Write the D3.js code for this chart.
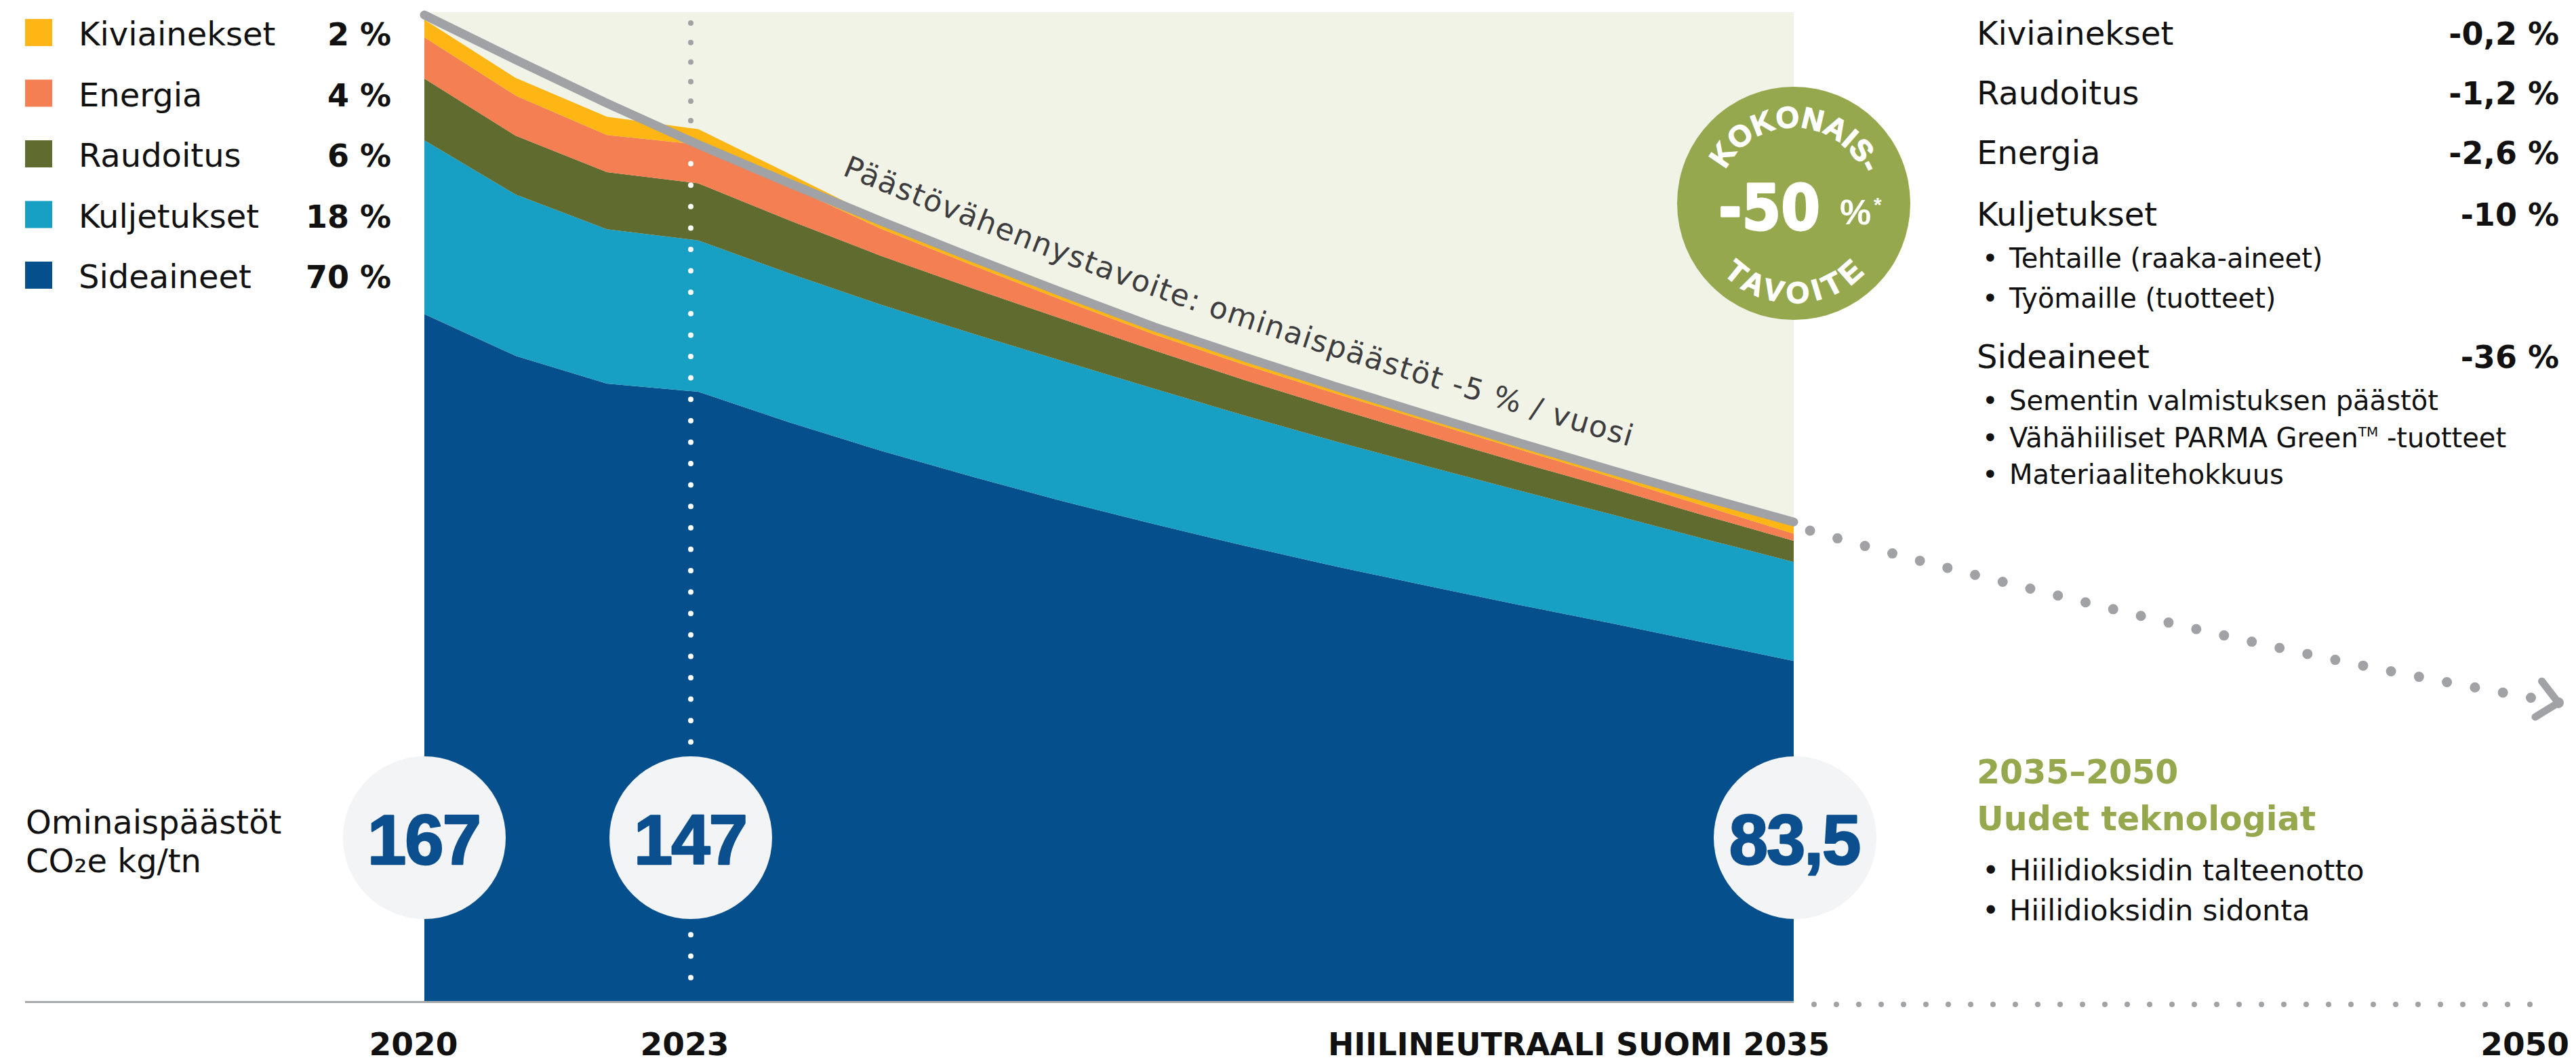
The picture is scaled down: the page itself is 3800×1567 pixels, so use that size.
<!DOCTYPE html>
<html>
<head>
<meta charset="utf-8">
<script src="https://cdn.jsdelivr.net/npm/d3@7"></script>
<style>
html,body{margin:0;padding:0;background:#ffffff;}
svg{display:block;}
text{font-family:"DejaVu Sans",sans-serif;}
</style>
</head>
<body>
<svg id="chart" width="3800" height="1567"></svg>
<script>
// ---------------- DATA ----------------
const years        = [2020, 2021, 2022, 2023, 2024, 2025, 2026, 2027, 2028, 2029, 2030, 2031, 2032, 2033, 2034, 2035];
const sideaineet   = [117.0, 109.9, 105.2, 103.8, 98.6, 93.8, 89.4, 85.2, 81.3, 77.6, 74.1, 70.8, 67.6, 64.5, 61.3, 58.1];
const kuljetukset  = [29.5, 27.4, 26.2, 25.7, 25.3, 24.8, 24.3, 23.8, 23.0, 22.1, 21.2, 20.3, 19.4, 18.5, 17.6, 16.8];
const raudoitus    = [10.5, 10.0, 9.7, 9.7, 9.0, 8.3, 7.7, 7.1, 6.5, 6.0, 5.6, 5.2, 4.8, 4.4, 4.0, 3.6];
const energia      = [7.0, 6.8, 6.3, 6.6, 5.8, 4.6, 3.9, 3.2, 2.7, 2.6, 2.5, 2.4, 2.2, 1.9, 1.6, 1.2];
const kiviainekset = [3.0, 3.0, 3.1, 2.6, 2.1, 1.6, 1.5, 1.4, 1.4, 1.5, 1.5, 1.5, 1.5, 1.5, 1.5, 1.5];
// target line "-5 % / vuosi"
const targetValues = [167.8, 160.2, 152.8, 145.8, 139.2, 132.8, 126.6, 120.6, 114.8, 109.6, 104.6, 99.8, 95.1, 90.5, 86.0, 81.7];
// dotted continuation 2035-2050
const extYears  = [2035, 2037, 2040, 2043, 2046, 2050];
const extValues = [81.0, 76.2, 69.6, 63.3, 57.6, 51.0];

const seriesKeys   = ["sideaineet", "kuljetukset", "raudoitus", "energia", "kiviainekset"];
const legendLabels = ["Kiviainekset", "Energia", "Raudoitus", "Kuljetukset", "Sideaineet"];
const legendKeys   = ["kiviainekset", "energia", "raudoitus", "kuljetukset", "sideaineet"];
const legendShares = ["2 %", "4 %", "6 %", "18 %", "70 %"];

const reductionLabels = ["Kiviainekset", "Raudoitus", "Energia", "Kuljetukset", "Sideaineet"];
const reductionValues = ["-0,2 %", "-1,2 %", "-2,6 %", "-10 %", "-36 %"];
const kuljetusBullets = ["Tehtaille (raaka-aineet)", "Työmaille (tuotteet)"];
const sideaineBullets = ["Sementin valmistuksen päästöt", "Vähähiiliset PARMA Green|TM| -tuotteet", "Materiaalitehokkuus"];
const techTitle   = ["2035–2050", "Uudet teknologiat"];
const techBullets = ["Hiilidioksidin talteenotto", "Hiilidioksidin sidonta"];

const milestoneYears  = [2020, 2023, 2035];
const milestoneLabels = ["167", "147", "83,5"];
const axisLabels = [
  {year: 2020, text: "2020"},
  {year: 2023, text: "2023"},
  {year: 2035, text: "HIILINEUTRAALI SUOMI 2035"},
  {year: 2050, text: "2050"}
];
const targetText = "Päästövähennystavoite: ominaispäästöt -5 % / vuosi";
const badgeTop = "KOKONAIS-", badgeMain = "-50", badgeBottom = "TAVOITE";
const unitLines = ["Ominaispäästöt", "CO₂e kg/tn"];

// ---------------- STYLE ----------------
const colors = {
  sideaineet: "#054f8c", kuljetukset: "#189fc4", raudoitus: "#5f6b2f",
  energia: "#f37f53", kiviainekset: "#fdb614"
};
const bgColor = "#f1f3e7", greyLine = "#a0a2a5", green = "#96a84e", numBlue = "#0b4f8e";
const LIB = "'Liberation Sans', Arial, sans-serif";

// ---------------- SCALES ----------------
const svg = d3.select("#chart");
const x = d3.scaleLinear().domain([2020, 2035, 2050]).range([626, 2646, 3774]);
const y = d3.scaleLinear().domain([0, 167]).range([1480, 29]);

const rows = years.map((yr, i) => ({
  year: yr, sideaineet: sideaineet[i], kuljetukset: kuljetukset[i],
  raudoitus: raudoitus[i], energia: energia[i], kiviainekset: kiviainekset[i]
}));
const stacked = d3.stack().keys(seriesKeys)(rows);
const totals = rows.map(r => seriesKeys.reduce((s, k) => s + r[k], 0));

const x0 = x(2020), x1 = x(2035), yBase = y(0);
const bgTop = 18;
const markNudge = -11;           // 2023 marker sits a little left of the data kink
const markX = x(2023) + markNudge;

// background panel
svg.append("rect").attr("x", x0).attr("y", bgTop)
  .attr("width", x1 - x0).attr("height", yBase - bgTop).attr("fill", bgColor);

// grey dots of 2023 marker above the stack
const total2023 = totals[years.indexOf(2023)];
svg.append("line").attr("x1", markX).attr("x2", markX)
  .attr("y1", bgTop + 16).attr("y2", y(total2023) - 12)
  .attr("stroke", greyLine).attr("stroke-width", 8).attr("stroke-linecap", "round")
  .attr("stroke-dasharray", "0 28.8");

// stacked areas
const area = d3.area().x(d => x(d.data.year)).y0(d => y(d[0])).y1(d => y(d[1])).curve(d3.curveLinear);
svg.append("g").selectAll("path").data(stacked).join("path")
  .attr("d", area).attr("fill", d => colors[d.key]);

// white dots of 2023 marker inside the stack
svg.append("line").attr("x1", markX).attr("x2", markX)
  .attr("y1", y(total2023) + 51).attr("y2", yBase - 37)
  .attr("stroke", "#ffffff").attr("stroke-width", 8).attr("stroke-linecap", "round")
  .attr("stroke-dasharray", "0 31.6");

// axis line
svg.append("line").attr("x1", 37).attr("x2", x1).attr("y1", yBase - 1.5).attr("y2", yBase - 1.5)
  .attr("stroke", "#a7a9ac").attr("stroke-width", 3);
// dotted axis continuation
svg.append("line").attr("x1", x1 + 30).attr("x2", x(2050) - 19).attr("y1", yBase + 2).attr("y2", yBase + 2)
  .attr("stroke", greyLine).attr("stroke-width", 8).attr("stroke-linecap", "round")
  .attr("stroke-dasharray", "0 33");

// target line
const tgtPts = years.map((yr, i) => [x(yr), y(targetValues[i])]);
svg.append("path").attr("id", "targetLine")
  .attr("d", d3.line().curve(d3.curveLinear)(tgtPts))
  .attr("fill", "none").attr("stroke", greyLine).attr("stroke-width", 13)
  .attr("stroke-linecap", "round").attr("stroke-linejoin", "round");

// dotted extension 2035-2050
const extPts = extYears.map((yr, i) => [x(yr), y(extValues[i])]);
const extPath = svg.append("path")
  .attr("d", d3.line().curve(d3.curveMonotoneX)(extPts))
  .attr("fill", "none").attr("stroke", greyLine).attr("stroke-width", 15)
  .attr("stroke-linecap", "round").attr("stroke-dasharray", "0 42").attr("stroke-dashoffset", 17);
{
  const node = extPath.node();
  const L = node.getTotalLength();
  const pEnd = node.getPointAtLength(L), pPrev = node.getPointAtLength(L - 8);
  const ang = Math.atan2(pEnd.y - pPrev.y, pEnd.x - pPrev.x) + Math.PI;
  const arm = 40, spread = 42 * Math.PI / 180;
  const a1 = [pEnd.x + arm * Math.cos(ang + spread), pEnd.y + arm * Math.sin(ang + spread)];
  const a2 = [pEnd.x + arm * Math.cos(ang - spread), pEnd.y + arm * Math.sin(ang - spread)];
  svg.append("path").attr("d", `M${a1[0]},${a1[1]}L${pEnd.x},${pEnd.y}L${a2[0]},${a2[1]}`)
    .attr("fill", "none").attr("stroke", greyLine).attr("stroke-width", 11)
    .attr("stroke-linecap", "round").attr("stroke-linejoin", "round");
  svg.append("circle").attr("cx", pEnd.x).attr("cy", pEnd.y).attr("r", 8).attr("fill", greyLine);
}

// text along target line (offset path)
{
  const idx = years.map((yr, i) => i).filter(i => years[i] >= 2023);
  const off = 41;
  const pts = idx.map(i => {
    const a = tgtPts[Math.max(idx[0], i - 1)], b = tgtPts[Math.min(years.length - 1, i + 1)];
    const tx = b[0] - a[0], ty = b[1] - a[1], n = Math.hypot(tx, ty);
    return [tgtPts[i][0] + off * ty / n, tgtPts[i][1] - off * tx / n];
  });
  const guide = svg.append("path").attr("id", "textGuide")
    .attr("d", d3.line().curve(d3.curveBasis)(pts)).attr("fill", "none").attr("stroke", "none");
  const gn = guide.node();
  let s = 0; const Lg = gn.getTotalLength();
  while (s < Lg && gn.getPointAtLength(s).x < 1241) s += 1;
  svg.append("text").attr("font-size", 44).attr("fill", "#3d3d3f").attr("letter-spacing", 1.6)
    .append("textPath").attr("href", "#textGuide").attr("startOffset", s)
    .text(targetText);
}

// milestone circles
milestoneYears.forEach((yr, i) => {
  const cx = yr === 2023 ? markX : x(yr) + (yr === 2035 ? 2 : 0);
  svg.append("circle").attr("cx", cx).attr("cy", 1236).attr("r", 120).attr("fill", "#f3f4f6");
  svg.append("text").attr("x", cx - 1).attr("y", 1275).attr("text-anchor", "middle")
    .style("font-family", LIB).attr("font-weight", 700)
    .attr("font-size", 103).attr("fill", numBlue).attr("letter-spacing", -2)
    .attr("stroke", numBlue).attr("stroke-width", 2.5).attr("stroke-linejoin", "round")
    .text(milestoneLabels[i]);
});

// left legend
const lg = svg.append("g");
legendLabels.forEach((lab, i) => {
  const top = 28 + i * 89.5;
  lg.append("rect").attr("x", 37).attr("y", top).attr("width", 40).attr("height", 40).attr("fill", colors[legendKeys[i]]);
  lg.append("text").attr("x", 116).attr("y", top + 39).attr("font-size", 48).attr("fill", "#111").text(lab);
  lg.append("text").attr("x", 577).attr("y", top + 39).attr("font-size", 46).attr("font-weight", 700)
    .attr("text-anchor", "end").attr("fill", "#111").text(legendShares[i]);
});

// unit label
unitLines.forEach((t, i) => {
  svg.append("text").attr("x", 38).attr("y", 1230 + i * 57).attr("font-size", 48).attr("fill", "#111").text(t);
});

// axis labels
axisLabels.forEach(a => {
  const t = svg.append("text").attr("y", 1557).attr("font-size", 47).attr("font-weight", 700).attr("fill", "#111");
  if (a.year === 2020) t.attr("x", x(2020) - 16).attr("text-anchor", "middle");
  else if (a.year === 2023) t.attr("x", markX - 9).attr("text-anchor", "middle");
  else if (a.year === 2035) t.attr("x", x(2035) + 53).attr("text-anchor", "end").attr("textLength", 740).attr("lengthAdjust", "spacingAndGlyphs");
  else t.attr("x", x(2050) + 16).attr("text-anchor", "end");
  t.text(a.text);
});

// right-hand list
const rx = 2916, rEnd = 3775, bulletX = 2924, bulletTextX = 2964;
const headBase = [66, 154, 242, 333, 543];
reductionLabels.forEach((lab, i) => {
  svg.append("text").attr("x", rx).attr("y", headBase[i]).attr("font-size", 48).attr("fill", "#111").text(lab);
  svg.append("text").attr("x", rEnd).attr("y", headBase[i]).attr("font-size", 46).attr("font-weight", 700)
    .attr("text-anchor", "end").attr("fill", "#111").text(reductionValues[i]);
});
function bullets(list, base0, step, size) {
  list.forEach((t, i) => {
    const yy = base0 + i * step;
    svg.append("text").attr("x", bulletX).attr("y", yy).attr("font-size", size).attr("fill", "#111").text("•");
    const tt = svg.append("text").attr("x", bulletTextX).attr("y", yy).attr("font-size", size).attr("fill", "#111");
    const parts = t.split("|");
    parts.forEach((p, k) => {
      if (k % 2 === 1) tt.append("tspan").attr("font-size", size * 0.5).attr("dy", -size * 0.38).text(p);
      else tt.append("tspan").attr("dy", k > 0 ? size * 0.38 : 0).text(p);
    });
  });
}
bullets(kuljetusBullets, 395, 59, 40);
bullets(sideaineBullets, 605, 54.5, 40);

techTitle.forEach((t, i) => {
  svg.append("text").attr("x", rx).attr("y", 1156 + i * 69).attr("font-size", 49).attr("font-weight", 700)
    .attr("fill", green).text(t);
});
bullets(techBullets, 1299, 59, 43);

// badge
{
  const cx = 2646, cy = 300, r = 172;
  svg.append("circle").attr("cx", cx).attr("cy", cy).attr("r", r).attr("fill", green);
  const rt = 112, rb = 147;
  svg.append("path").attr("id", "badgeTopArc")
    .attr("d", `M${cx - rt},${cy} A${rt},${rt} 0 0 1 ${cx + rt},${cy}`).attr("fill", "none");
  svg.append("path").attr("id", "badgeBotArc")
    .attr("d", `M${cx - rb},${cy} A${rb},${rb} 0 0 0 ${cx + rb},${cy}`).attr("fill", "none");
  svg.append("text").style("font-family", LIB).attr("font-size", 44).attr("font-weight", 700).attr("fill", "#fff")
    .attr("stroke", "#fff").attr("stroke-width", 1.5).attr("letter-spacing", 0.5)
    .append("textPath").attr("href", "#badgeTopArc").attr("startOffset", "51%").attr("text-anchor", "middle").text(badgeTop);
  svg.append("text").style("font-family", LIB).attr("font-size", 44).attr("font-weight", 700).attr("fill", "#fff")
    .attr("stroke", "#fff").attr("stroke-width", 1.5).attr("letter-spacing", 8)
    .append("textPath").attr("href", "#badgeBotArc").attr("startOffset", "51%").attr("text-anchor", "middle").text(badgeBottom);
  svg.append("text").attr("x", 2535).attr("y", 339).attr("font-size", 92).attr("font-weight", 700).attr("fill", "#fff")
    .attr("stroke", "#fff").attr("stroke-width", 3).attr("stroke-linejoin", "round")
    .attr("textLength", 150).attr("lengthAdjust", "spacingAndGlyphs").text(badgeMain);
  svg.append("text").attr("x", 2714).attr("y", 331).attr("font-size", 52).attr("font-weight", 700).attr("fill", "#fff")
    .style("font-family", LIB).text("%");
  svg.append("text").attr("x", 2764).attr("y", 312).attr("font-size", 30).attr("font-weight", 700).attr("fill", "#fff")
    .style("font-family", LIB).text("*");
}
</script>
</body>
</html>
